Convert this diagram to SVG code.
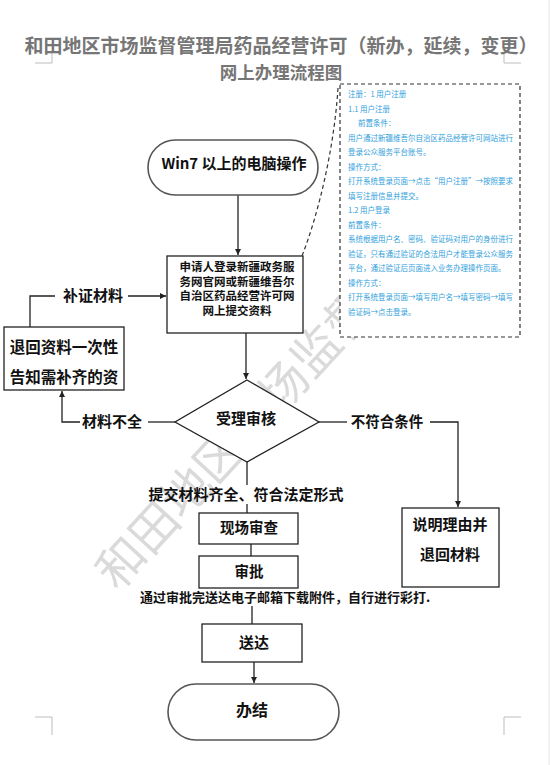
<svg xmlns="http://www.w3.org/2000/svg" width="557" height="765" viewBox="0 0 557 765">
<defs>
<marker id="ah" viewBox="0 0 10 10" refX="10" refY="5" markerWidth="6" markerHeight="6" orient="auto" markerUnits="userSpaceOnUse">
<path d="M0,0 L10,5 L0,10 z" fill="#222"/>
</marker>
<style>
text{font-family:"Noto Sans CJK SC","Liberation Sans",sans-serif;}
.t{font-weight:bold;fill:#111;text-anchor:middle;}
.title{font-weight:bold;fill:#767676;text-anchor:middle;}
.box{fill:#fff;stroke:#222;stroke-width:1.3;}
.term{fill:#fff;stroke:#555;stroke-width:1.6;}
.ln{fill:none;stroke:#222;stroke-width:1.3;}
.arr{fill:none;stroke:#222;stroke-width:1.3;marker-end:url(#ah);}
.mark{fill:none;stroke:#bdbdbd;stroke-width:1;}
.note{font-size:7.5px;fill:#2fa0dc;}
</style>
</defs>
<rect width="557" height="765" fill="#fff"/>
<line x1="549" y1="0" x2="549" y2="765" stroke="#e6e6e6" stroke-width="1"/>
<g id="cropmarks">
<path class="mark" d="M35 63 H52 V53"/>
<path class="mark" d="M521 63 H504 V53"/>
<path class="mark" d="M35 717 H52 V735"/>
<path class="mark" d="M521 717 H504 V735"/>
</g>
<g id="watermark" transform="translate(236,440) rotate(-47.5)">
<text x="0" y="16" font-size="48" fill="#dadada" text-anchor="middle">和田地区市场监督</text>
</g>
<g id="title">
<text class="title" x="281" y="53" font-size="19">和田地区市场监督管理局药品经营许可（新办，延续，变更）</text>
<text class="title" x="281" y="79" font-size="17.5">网上办理流程图</text>
</g>
<g id="connectors">
<path class="arr" d="M238 195 V255"/>
<path class="arr" d="M246 333 V379"/>
<path class="ln" d="M175 422 H148"/>
<path class="arr" d="M80 422 H62 V391"/>
<path class="ln" d="M30 327 V296 H55"/>
<path class="arr" d="M128 296 H166"/>
<path class="ln" d="M319 422 H347"/>
<path class="arr" d="M430 422 H458 V507"/>
<path class="ln" d="M247 462 V485"/>
<path class="ln" d="M247 504 V513"/>
<path class="ln" d="M251 544 V556"/>
<path class="ln" d="M252 606 V624"/>
<path class="arr" d="M254 662 V683"/>
<path fill="none" stroke="#333" stroke-width="1.2" stroke-dasharray="4 3" d="M338 88 C334 150 318 215 302 256"/>
</g>
<g id="note-box">
<rect x="340" y="84" width="180" height="253" fill="#fff" stroke="#333" stroke-width="1.2" stroke-dasharray="4 3"/>
<text class="note" x="348" y="97">注册：1 用户注册</text>
<text class="note" x="348" y="111.5">1.1 用户注册</text>
<text class="note" x="358" y="126">前置条件：</text>
<text class="note" x="348" y="140.5">用户通过新疆维吾尔自治区药品经营许可网站进行</text>
<text class="note" x="348" y="155">登录公众服务平台账号。</text>
<text class="note" x="348" y="169.5">操作方式：</text>
<text class="note" x="348" y="184">打开系统登录页面→点击“用户注册”→按照要求</text>
<text class="note" x="348" y="198.5">填写注册信息并提交。</text>
<text class="note" x="348" y="213">1.2 用户登录</text>
<text class="note" x="348" y="227.5">前置条件：</text>
<text class="note" x="348" y="242">系统根据用户名、密码、验证码对用户的身份进行</text>
<text class="note" x="348" y="256.5">验证，只有通过验证的合法用户才能登录公众服务</text>
<text class="note" x="348" y="271">平台，通过验证后页面进入业务办理操作页面。</text>
<text class="note" x="348" y="285.5">操作方式：</text>
<text class="note" x="348" y="300">打开系统登录页面→填写用户名→填写密码→填写</text>
<text class="note" x="348" y="314.5">验证码→点击登录。</text>
</g>
<g id="start">
<rect class="term" x="148" y="140" width="170" height="55" rx="27.5"/>
<text class="t" x="234" y="169" font-size="15">Win7 以上的电脑操作</text>
</g>
<g id="submit">
<rect class="box" x="167" y="256" width="136" height="77"/>
<text class="t" x="237" y="271" font-size="11.5">申请人登录新疆政务服</text>
<text class="t" x="237" y="285.5" font-size="11.5">务网官网或新疆维吾尔</text>
<text class="t" x="237" y="300" font-size="11.5">自治区药品经营许可网</text>
<text class="t" x="237" y="314.5" font-size="11.5">网上提交资料</text>
</g>
<g id="return-box">
<rect class="box" x="4" y="327" width="120" height="63"/>
<text class="t" x="64" y="353" font-size="15.5">退回资料一次性</text>
<text class="t" x="64" y="383" font-size="15.5">告知需补齐的资</text>
</g>
<g id="review">
<polygon class="box" points="247,380 319,422 247,462 175,422"/>
<text class="t" x="246" y="424" font-size="15">受理审核</text>
</g>
<g id="labels">
<text class="t" x="112" y="427" font-size="15">材料不全</text>
<text class="t" x="93" y="301" font-size="15">补证材料</text>
<text class="t" x="387" y="427" font-size="14.5">不符合条件</text>
<text class="t" x="246" y="500" font-size="15">提交材料齐全、符合法定形式</text>
<text class="t" x="285" y="602" font-size="13">通过审批完送达电子邮箱下载附件，自行进行彩打.</text>
</g>
<g id="reject-box">
<rect class="box" x="402" y="508" width="97" height="79"/>
<text class="t" x="450" y="530" font-size="15">说明理由并</text>
<text class="t" x="450" y="560" font-size="15">退回材料</text>
</g>
<g id="onsite">
<rect class="box" x="199" y="513" width="99" height="31"/>
<text class="t" x="249" y="533" font-size="14.5">现场审查</text>
</g>
<g id="approve">
<rect class="box" x="199" y="556" width="99" height="32"/>
<text class="t" x="249" y="577" font-size="14.5">审批</text>
</g>
<g id="deliver">
<rect class="box" x="202" y="624" width="100" height="38"/>
<text class="t" x="254" y="648" font-size="15">送达</text>
</g>
<g id="end">
<rect class="term" x="168" y="684" width="171" height="56" rx="28"/>
<text class="t" x="252" y="716" font-size="16">办结</text>
</g>
</svg>
